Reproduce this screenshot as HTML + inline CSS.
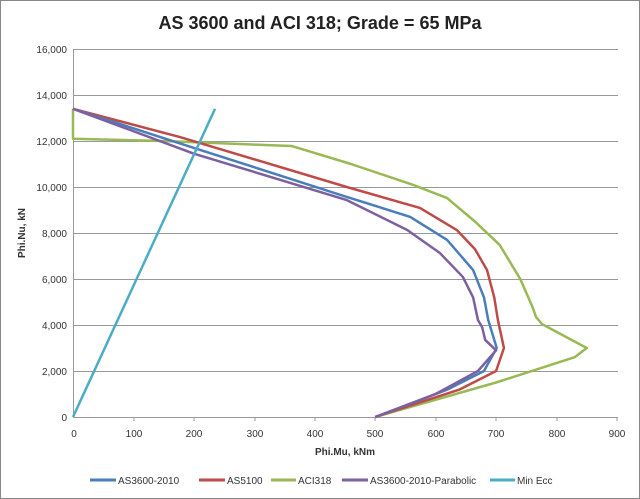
<!DOCTYPE html>
<html><head><meta charset="utf-8"><style>
body{margin:0;background:#fff;}
svg{display:block;font-family:"Liberation Sans",sans-serif;}
</style></head><body>
<svg width="640" height="499" viewBox="0 0 640 499">
<rect x="0.5" y="0.5" width="639" height="498" fill="#fff" stroke="#888"/>
<text x="320" y="29" text-anchor="middle" font-size="18" font-weight="bold" fill="#222">AS 3600 and ACI 318; Grade = 65 MPa</text>
<g stroke="#999" stroke-width="1">
<line x1="73" y1="49.5" x2="618" y2="49.5"/>
<line x1="73" y1="95.5" x2="618" y2="95.5"/>
<line x1="73" y1="141.5" x2="618" y2="141.5"/>
<line x1="73" y1="187.5" x2="618" y2="187.5"/>
<line x1="73" y1="233.5" x2="618" y2="233.5"/>
<line x1="73" y1="279.5" x2="618" y2="279.5"/>
<line x1="73" y1="325.5" x2="618" y2="325.5"/>
<line x1="73" y1="371.5" x2="618" y2="371.5"/>
<line x1="73" y1="417.5" x2="618" y2="417.5"/>
<line x1="73.5" y1="49" x2="73.5" y2="417"/>
</g>
<g stroke="#999"><line x1="134" y1="417" x2="134" y2="421"/><line x1="194" y1="417" x2="194" y2="421"/><line x1="255" y1="417" x2="255" y2="421"/><line x1="315" y1="417" x2="315" y2="421"/><line x1="375" y1="417" x2="375" y2="421"/><line x1="436" y1="417" x2="436" y2="421"/><line x1="496" y1="417" x2="496" y2="421"/><line x1="557" y1="417" x2="557" y2="421"/><line x1="617" y1="417" x2="617" y2="421"/></g>
<g font-size="10" fill="#333" text-anchor="end">
<text x="67" y="53">16,000</text><text x="67" y="99">14,000</text><text x="67" y="145">12,000</text><text x="67" y="191">10,000</text><text x="67" y="237">8,000</text><text x="67" y="283">6,000</text><text x="67" y="329">4,000</text><text x="67" y="375">2,000</text><text x="67" y="421">0</text>
</g>
<g font-size="10" fill="#333" text-anchor="middle">
<text x="74" y="437">0</text><text x="134" y="437">100</text><text x="194" y="437">200</text><text x="255" y="437">300</text><text x="315" y="437">400</text><text x="375" y="437">500</text><text x="436" y="437">600</text><text x="496" y="437">700</text><text x="557" y="437">800</text><text x="617" y="437">900</text>
</g>
<text x="345" y="455" text-anchor="middle" font-size="10" font-weight="bold" fill="#333">Phi.Mu, kNm</text>
<text transform="translate(25,233) rotate(-90)" text-anchor="middle" font-size="10" font-weight="bold" fill="#333">Phi.Nu, kN</text>
<g transform="translate(73,417) scale(0.6044,-0.023)" fill="none" stroke-width="2.5" stroke-linejoin="round">
<polyline vector-effect="non-scaling-stroke" stroke="#98B954" points="0,13400 0,12100 150,12000 362,11780 460,11000 563,10090 619,9520 665,8500 706,7480 740,6000 760,4800 766,4350 776,4040 800,3700 850,3000 830,2600 700,1500 500,0"/>
<polyline vector-effect="non-scaling-stroke" stroke="#BE4B48" points="0,13400 177,12170 453,10000 574,9090 635,8130 665,7300 685,6390 697,5200 703,4220 713,3000 700,2000 640,1200 500,0"/>
<polyline vector-effect="non-scaling-stroke" stroke="#4A7EBB" points="0,13400 200,11700 453,9570 558,8700 619,7700 662,6390 680,5200 687,4220 701,3000 680,2000 620,1200 500,0"/>
<polyline vector-effect="non-scaling-stroke" stroke="#7D60A0" points="0,13400 200,11450 453,9430 553,8130 607,7130 645,6090 662,5200 670,4220 677,3900 682,3350 700,2900 670,2000 600,1000 500,0"/>
<polyline vector-effect="non-scaling-stroke" stroke="#4BACC6" points="0,0 235,13400"/>
</g>
<g font-size="10" fill="#333" stroke-width="3">
<line x1="90" y1="480" x2="116" y2="480" stroke="#4A7EBB"/><text x="118" y="484">AS3600-2010</text>
<line x1="199" y1="480" x2="225" y2="480" stroke="#BE4B48"/><text x="227" y="484">AS5100</text>
<line x1="271" y1="480" x2="296" y2="480" stroke="#98B954"/><text x="298" y="484">ACI318</text>
<line x1="342" y1="480" x2="368" y2="480" stroke="#7D60A0"/><text x="370" y="484">AS3600-2010-Parabolic</text>
<line x1="490" y1="480" x2="515" y2="480" stroke="#4BACC6"/><text x="517" y="484">Min Ecc</text>
</g>
</svg>
</body></html>
